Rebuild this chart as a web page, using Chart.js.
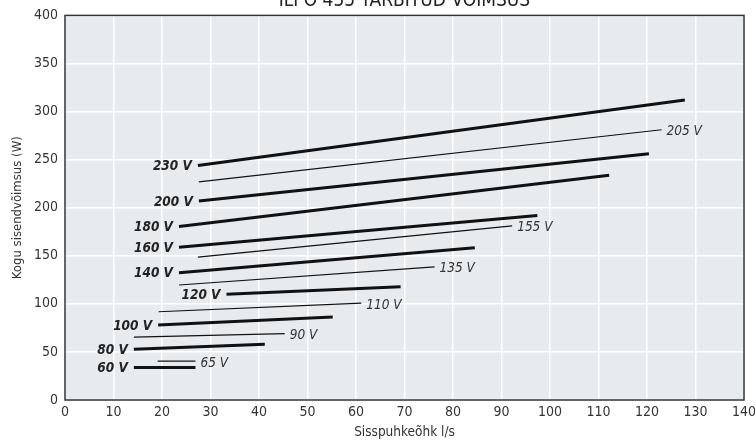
<!DOCTYPE html>
<html>
<head>
<meta charset="utf-8">
<script src="https://cdn.jsdelivr.net/npm/chart.js@4"></script>
<style>
  body { margin: 0; background: #fff; }
  canvas { display: block; }
</style>
</head>
<body>
<canvas id="myChart" width="755" height="441"></canvas>
<script>
// voltage lines: start and end points (air flow l/s, power W)
const voltages = ["230 V", "205 V", "200 V", "180 V", "160 V", "155 V", "140 V", "135 V", "120 V", "110 V", "100 V", "90 V", "80 V", "65 V", "60 V"];
const thick = [true, false, true, true, true, false, true, false, true, false, true, false, true, false, true];
const flowStart = [27.4, 27.6, 27.6, 23.5, 23.5, 27.4, 23.5, 23.5, 33.3, 19.3, 19.2, 14.2, 14.2, 19.1, 14.2];
const flowEnd = [127.8, 123, 120.4, 112.2, 97.4, 92.2, 84.5, 76.2, 69.2, 61.1, 55.2, 45.3, 41.2, 26.9, 26.9];
const powerStart = [244, 226.8, 206.9, 180.4, 158.8, 148.5, 132.3, 119.6, 110, 91.8, 78, 65.3, 52.9, 40.5, 33.7];
const powerEnd = [312, 281.1, 256, 233.7, 192, 181.1, 158.4, 138.5, 117.8, 100.7, 86.2, 69, 58, 40.5, 33.7];
const xTicks = [0, 10, 20, 30, 40, 50, 60, 70, 80, 90, 100, 110, 120, 130, 140];
const yTicks = [0, 50, 100, 150, 200, 250, 300, 350, 400];

const font = "'Liberation Sans Narrow', 'DejaVu Sans Condensed', 'Liberation Sans', sans-serif";

const datasets = voltages.map((v, i) => ({
  label: v,
  data: [{ x: flowStart[i], y: powerStart[i] }, { x: flowEnd[i], y: powerEnd[i] }],
  borderColor: "#111",
  borderWidth: thick[i] ? 3 : 1.2,
  pointRadius: 0,
  showLine: true,
  fill: false
}));

// plot background, frame, line labels and the clipped title
const decor = {
  id: "decor",
  beforeDraw(chart) {
    const { ctx, chartArea: a } = chart;
    ctx.save();
    ctx.fillStyle = "#e8ebee";
    ctx.fillRect(a.left, a.top, a.right - a.left, a.bottom - a.top);
    ctx.restore();
  },
  afterDraw(chart) {
    const { ctx, chartArea: a, scales } = chart;
    ctx.save();
    ctx.strokeStyle = "#333";
    ctx.lineWidth = 1.5;
    ctx.strokeRect(a.left, a.top, a.right - a.left, a.bottom - a.top);

    ctx.textBaseline = "middle";
    voltages.forEach((v, i) => {
      if (thick[i]) {
        ctx.font = "italic bold 13.5px " + font;
        ctx.textAlign = "right";
        ctx.fillStyle = "#222";
        ctx.fillText(v, scales.x.getPixelForValue(flowStart[i]) - 6, scales.y.getPixelForValue(powerStart[i]) + 1);
      } else {
        ctx.font = "italic 13.5px " + font;
        ctx.textAlign = "left";
        ctx.fillStyle = "#333";
        ctx.fillText(v, scales.x.getPixelForValue(flowEnd[i]) + 5, scales.y.getPixelForValue(powerEnd[i]) + 2);
      }
    });

    ctx.font = "19px " + font;
    ctx.textAlign = "center";
    ctx.textBaseline = "alphabetic";
    ctx.fillStyle = "#222";
    ctx.fillText("ILPO 455 TARBITUD VÕIMSUS", (a.left + a.right) / 2, 6);
    ctx.restore();
  }
};

new Chart(document.getElementById("myChart"), {
  type: "scatter",
  data: { datasets },
  options: {
    responsive: false,
    animation: false,
    layout: { padding: { top: 12, right: 0, left: 0, bottom: 0 } },
    plugins: { legend: { display: false }, tooltip: { enabled: false }, title: { display: false } },
    scales: {
      x: {
        type: "linear",
        min: 0,
        max: 140,
        afterBuildTicks: s => { s.ticks = xTicks.map(v => ({ value: v })); },
        afterFit: s => { s.height = 41; s.paddingRight = 11; s.paddingLeft = 0; },
        grid: { color: "#fff", lineWidth: 1.5, drawTicks: false },
        border: { display: false },
        ticks: { color: "#333", padding: 4, font: { family: font, size: 14 } },
        title: { display: true, text: "Sisspuhkeõhk l/s", color: "#333", padding: { top: 2, bottom: 0 }, font: { family: font, size: 13.5 } }
      },
      y: {
        type: "linear",
        min: 0,
        max: 400,
        afterBuildTicks: s => { s.ticks = yTicks.map(v => ({ value: v })); },
        afterFit: s => { s.width = 65; },
        grid: { color: "#fff", lineWidth: 1.5, drawTicks: false },
        border: { display: false },
        ticks: { color: "#333", padding: 7, font: { family: font, size: 14 } },
        title: { display: true, text: "Kogu sisendvõimsus (W)", color: "#333", padding: { top: 10, bottom: 0 }, font: { family: font, size: 13 } }
      }
    }
  },
  plugins: [decor]
});
</script>
</body>
</html>
